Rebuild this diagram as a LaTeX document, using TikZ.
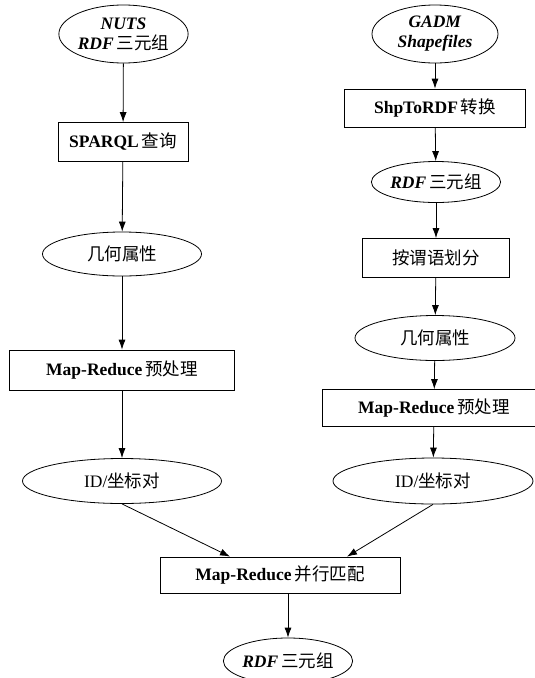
\documentclass[tikz,border=0pt]{standalone}
\usepackage{fontspec}
\setmainfont{Liberation Serif}
\newfontfamily\cjk{Noto Sans CJK SC}
\usetikzlibrary{shapes.geometric,arrows.meta}
\tikzset{
  base/.style={draw=black, line width=0.8pt, inner sep=0pt, align=center, font=\fontsize{17.5}{20}\selectfont},
  ell/.style={base, ellipse},
  bx/.style={base, rectangle},
  arr/.style={draw=black, line width=0.8pt, -{Latex[length=10pt,width=7pt]}}
}
\newcommand{\bi}[1]{\textbf{\textit{#1}}}
\newcommand{\zh}[1]{{\cjk #1}}
\begin{document}
\begin{tikzpicture}[x=1pt,y=1pt]
\useasboundingbox (0,0) rectangle (535,-678);
% left column
\node[ell, minimum width=127, minimum height=58] (nuts) at (123.5,-34) {\bi{NUTS}\\\bi{RDF}\,\zh{三元组}};
\node[bx, minimum width=130, minimum height=39] (sparql) at (123,-142) {\textbf{SPARQL}\,\zh{查询}};
\node[ell, minimum width=159, minimum height=44] (geo1) at (122,-254) {\zh{几何属性}};
\node[bx, minimum width=225, minimum height=40] (mr1) at (122,-370) {\textbf{Map-Reduce}\,\zh{预处理}};
\node[ell, minimum width=199, minimum height=45] (id1) at (122,-481) {ID/\zh{坐标对}};
% right column
\node[ell, minimum width=126, minimum height=58] (gadm) at (435,-34) {\bi{GADM}\\\bi{Shapefiles}};
\node[bx, minimum width=181, minimum height=38] (shp) at (435,-108) {\textbf{ShpToRDF}\,\zh{转换}};
\node[ell, minimum width=124, minimum height=41] (rdf1) at (436,-182) {\bi{RDF}\,\zh{三元组}};
\node[bx, minimum width=147, minimum height=39] (pred) at (436,-258) {\zh{按谓语划分}};
\node[ell, minimum width=160, minimum height=45] (geo2) at (435,-338) {\zh{几何属性}};
\node[bx, minimum width=224, minimum height=37] (mr2) at (434,-408) {\textbf{Map-Reduce}\,\zh{预处理}};
\node[ell, minimum width=200, minimum height=46] (id2) at (433,-481) {ID/\zh{坐标对}};
% bottom
\node[bx, minimum width=240, minimum height=36] (merge) at (280,-575) {\textbf{Map-Reduce}\,\zh{并行匹配}};
\node[ell, minimum width=120, minimum height=46] (rdf3) at (288,-661) {\bi{RDF}\,\zh{三元组}};
% connectors
\draw[arr] (nuts) -- (sparql);
\draw[arr] (sparql) -- (geo1);
\draw[arr] (geo1) -- (mr1);
\draw[arr] (mr1) -- (id1);
\draw[arr] (gadm) -- (shp);
\draw[arr] (shp) -- (rdf1);
\draw[arr] (rdf1) -- (pred);
\draw[arr] (pred) -- (geo2);
\draw[arr] (geo2) -- (mr2);
\draw[arr] (mr2) -- (id2);
\draw[arr] (id1.south) -- ([xshift=-50]merge.north);
\draw[arr] (id2.south) -- ([xshift=67]merge.north);
\draw[arr] (merge.south -| rdf3.north) -- (rdf3.north);
\end{tikzpicture}
\end{document}
